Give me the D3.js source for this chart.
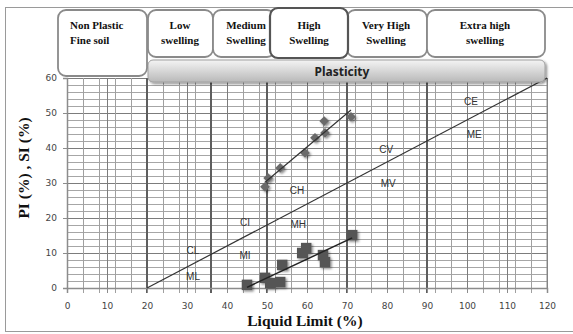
<!DOCTYPE html>
<html>
<head>
<meta charset="utf-8">
<script src="https://cdn.jsdelivr.net/npm/d3@7"></script>
<style>
  body { margin: 0; background: #fff; }
  svg { display: block; }
</style>
</head>
<body>
<div id="chart"></div>
<script>
// Data
const xTicks = [0, 10, 20, 30, 40, 50, 60, 70, 80, 90, 100, 110, 120];
const yTicks = [0, 10, 20, 30, 40, 50, 60];

// plasticity index samples (diamonds)
const llPI = [49.5, 50.3, 53.3, 59.5, 62, 64.5, 64.3, 71];
const piValues = [28.9, 31.4, 34.3, 38.6, 42.9, 44.3, 47.7, 48.9];

// swelling index samples (squares)
const llSI = [45, 49.5, 50.8, 53.3, 53.8, 58.8, 59.8, 64, 64.5, 71.3];
const siValues = [0.9, 2.9, 1.4, 1.7, 6.6, 10, 11.4, 9.4, 7.4, 15.1];

// A-line end points (LL, PI)
const aLine = [[20, 0], [120, 60]];

// zone boundary lines (LL)
const zoneLines = [20, 36, 50, 70, 90];

// zone labels
const zoneNames = ['CE', 'ME', 'CV', 'MV', 'CH', 'MH', 'CI', 'MI', 'CL', 'ML'];
const zoneLL = [101, 101.8, 79.8, 80.3, 57.5, 57.8, 44.5, 44.5, 31.5, 31.5];
const zonePI = [53, 43.7, 39.4, 29.7, 27.7, 18, 18.6, 8.9, 10.6, 2.9];

// swelling boxes
const swellNames = [
  ['Non Plastic', 'Fine soil'],
  ['Low', 'swelling'],
  ['Medium', 'Swelling'],
  ['Very High', 'Swelling'],
  ['Extra high', 'swelling'],
  ['High', 'Swelling']
];

const width = 573;
const height = 334;

const svg = d3.select('#chart')
  .append('svg')
  .attr('width', width)
  .attr('height', height);

const defs = svg.append('defs');
const grad = defs.append('linearGradient')
  .attr('id', 'barGrad')
  .attr('x1', 0).attr('y1', 0).attr('x2', 0).attr('y2', 1);
grad.append('stop').attr('offset', '0%').attr('stop-color', '#f4f4f4');
grad.append('stop').attr('offset', '100%').attr('stop-color', '#b9b9b9');

const shadow = defs.append('filter').attr('id', 'shadow')
  .attr('x', '-50%').attr('y', '-50%').attr('width', '200%').attr('height', '200%');
shadow.append('feDropShadow')
  .attr('dx', 1.5).attr('dy', 1.5).attr('stdDeviation', 1.2)
  .attr('flood-color', '#000').attr('flood-opacity', 0.45);

// outer frame
svg.append('rect')
  .attr('x', 5.5).attr('y', 7.5)
  .attr('width', 620).attr('height', 324)
  .attr('fill', 'none')
  .attr('stroke', '#9a9a9a');

// scales
const x = d3.scaleLinear().domain([0, 120]).range([67, 547]);
const y = d3.scaleLinear().domain([0, 60]).range([288, 78]);

const grid = svg.append('g').attr('shape-rendering', 'crispEdges');

// horizontal grid every 2
grid.selectAll('.hgrid')
  .data(d3.range(2, 61, 2))
  .enter()
  .append('line')
  .attr('x1', x(0)).attr('x2', x(120))
  .attr('y1', (d) => Math.round(y(d)) + 0.5).attr('y2', (d) => Math.round(y(d)) + 0.5)
  .attr('stroke', (d) => (d % 10 === 0 ? '#7c7c7c' : '#a6a6a6'))
  .attr('stroke-width', 1);

// vertical minor grid every 4, major every 10
const vMinor = d3.range(4, 121, 4).filter((d) => d % 10 !== 0);
grid.selectAll('.vminor')
  .data(vMinor)
  .enter()
  .append('line')
  .attr('x1', (d) => Math.round(x(d)) + 0.5).attr('x2', (d) => Math.round(x(d)) + 0.5)
  .attr('y1', y(60)).attr('y2', y(0) + 5)
  .attr('stroke', '#a0a0a0');

grid.selectAll('.vmajor')
  .data(xTicks.slice(1))
  .enter()
  .append('line')
  .attr('x1', (d) => x(d) + 0.5).attr('x2', (d) => x(d) + 0.5)
  .attr('y1', y(60)).attr('y2', y(0) + 5)
  .attr('stroke', '#7c7c7c');

grid.selectAll('.zone')
  .data(zoneLines)
  .enter()
  .append('line')
  .attr('x1', (d) => x(d)).attr('x2', (d) => x(d))
  .attr('y1', y(60)).attr('y2', y(0) + 5)
  .attr('stroke', '#5e5e5e')
  .attr('stroke-width', 2);

// axes
const xAxis = svg.append('g')
  .attr('transform', `translate(0,${y(0)})`)
  .call(d3.axisBottom(x).tickValues(xTicks).tickSize(5).tickPadding(10));
const yAxis = svg.append('g')
  .attr('transform', `translate(${x(0)},0)`)
  .call(d3.axisLeft(y).tickValues(yTicks).tickSize(4).tickPadding(6));

[xAxis, yAxis].forEach((ax) => {
  ax.select('.domain').attr('stroke', '#8c8c8c').attr('stroke-width', 1.5);
  ax.selectAll('.tick line').attr('stroke', '#8c8c8c');
  ax.selectAll('.tick text')
    .attr('fill', '#444')
    .style('font-family', 'DejaVu Sans, sans-serif')
    .style('font-size', '9px');
});

// right border of plot
svg.append('line')
  .attr('x1', x(120)).attr('x2', x(120))
  .attr('y1', y(60)).attr('y2', y(0))
  .attr('stroke', '#8c8c8c');

// A-line
svg.append('line')
  .attr('x1', x(aLine[0][0])).attr('y1', y(aLine[0][1]))
  .attr('x2', x(aLine[1][0])).attr('y2', y(aLine[1][1]))
  .attr('stroke', '#333')
  .attr('stroke-width', 1.2);

// zone labels
svg.selectAll('.zlabel')
  .data(zoneNames)
  .enter()
  .append('text')
  .attr('x', (d, i) => x(zoneLL[i]))
  .attr('y', (d, i) => y(zonePI[i]))
  .attr('text-anchor', 'middle')
  .attr('dominant-baseline', 'middle')
  .attr('fill', '#333')
  .style('font-family', 'Liberation Sans, Arial, sans-serif')
  .style('font-size', '10px')
  .text((d) => d);

// least squares trend line
function trend(xs, ys) {
  const mx = d3.mean(xs);
  const my = d3.mean(ys);
  const sxy = d3.sum(xs, (v, i) => (v - mx) * (ys[i] - my));
  const sxx = d3.sum(xs, (v) => (v - mx) * (v - mx));
  const b = sxy / sxx;
  const a = my - b * mx;
  const [x0, x1] = d3.extent(xs);
  return [[x0, a + b * x0], [x1, a + b * x1]];
}

const line = d3.line().x((d) => x(d[0])).y((d) => y(d[1]));

// diamonds
svg.append('g')
  .attr('filter', 'url(#shadow)')
  .selectAll('path')
  .data(llPI)
  .enter()
  .append('path')
  .attr('d', d3.symbol().type(d3.symbolSquare).size(48))
  .attr('transform', (d, i) => `translate(${x(d)},${y(piValues[i])}) rotate(45)`)
  .attr('fill', '#6b6b6b');

// squares
svg.append('g')
  .attr('filter', 'url(#shadow)')
  .selectAll('path')
  .data(llSI)
  .enter()
  .append('path')
  .attr('d', d3.symbol().type(d3.symbolSquare).size(110))
  .attr('transform', (d, i) => `translate(${x(d)},${y(siValues[i])})`)
  .attr('fill', '#555');

svg.append('path')
  .attr('d', line(trend(llPI, piValues)))
  .attr('stroke', '#333')
  .attr('stroke-width', 1.2)
  .attr('fill', 'none');

svg.append('path')
  .attr('d', line(trend(llSI, siValues)))
  .attr('stroke', '#222')
  .attr('stroke-width', 1.5)
  .attr('fill', 'none');

// plasticity bar
svg.append('rect')
  .attr('x', 148).attr('y', 60)
  .attr('width', 397).attr('height', 22)
  .attr('rx', 5)
  .attr('fill', 'url(#barGrad)')
  .attr('stroke', '#a0a0a0')
  .attr('filter', 'url(#shadow)');
svg.append('text')
  .attr('x', 342).attr('y', 76)
  .attr('text-anchor', 'middle')
  .attr('fill', '#222')
  .style('font-family', 'Noto Sans, sans-serif')
  .style('font-weight', 'bold')
  .style('font-size', '12px')
  .text('Plasticity');

// swelling boxes (drawn in order so High sits on top)
const boxX = [58, 148, 213, 347, 427, 270];
const boxW = [89, 65, 62, 80, 118, 78];
const boxH = [66, 47, 47, 47, 47, 50];
const boxY = [10, 10, 10, 10, 10, 8];
const textX = [70, 180, 246, 386, 485, 309];
const anchors = ['start', 'middle', 'middle', 'middle', 'middle', 'middle'];

const boxes = svg.selectAll('.box')
  .data(swellNames)
  .enter()
  .append('g');

boxes.append('rect')
  .attr('x', (d, i) => boxX[i])
  .attr('y', (d, i) => boxY[i])
  .attr('width', (d, i) => boxW[i])
  .attr('height', (d, i) => boxH[i])
  .attr('rx', 8)
  .attr('fill', '#fff')
  .attr('stroke', (d, i) => (i === 5 ? '#555' : '#8a8a8a'))
  .attr('stroke-width', (d, i) => (i === 5 ? 2.2 : 1.8));

boxes.each(function (d, i) {
  const g = d3.select(this);
  d.forEach((t, j) => {
    g.append('text')
      .attr('x', textX[i])
      .attr('y', 29 + j * 15)
      .attr('text-anchor', anchors[i])
      .attr('fill', '#111')
      .style('font-family', 'Liberation Serif, Times New Roman, serif')
      .style('font-weight', 'bold')
      .style('font-size', '11px')
      .text(t);
  });
});

// axis titles
svg.append('text')
  .attr('x', 305).attr('y', 326)
  .attr('text-anchor', 'middle')
  .attr('fill', '#111')
  .style('font-family', 'Liberation Serif, Times New Roman, serif')
  .style('font-weight', 'bold')
  .style('font-size', '15.5px')
  .text('Liquid Limit (%)');

svg.append('text')
  .attr('transform', 'translate(29,168) rotate(-90)')
  .attr('text-anchor', 'middle')
  .attr('fill', '#111')
  .style('font-family', 'Liberation Serif, Times New Roman, serif')
  .style('font-weight', 'bold')
  .style('font-size', '15.5px')
  .text('PI (%) , SI (%)');
</script>
</body>
</html>
